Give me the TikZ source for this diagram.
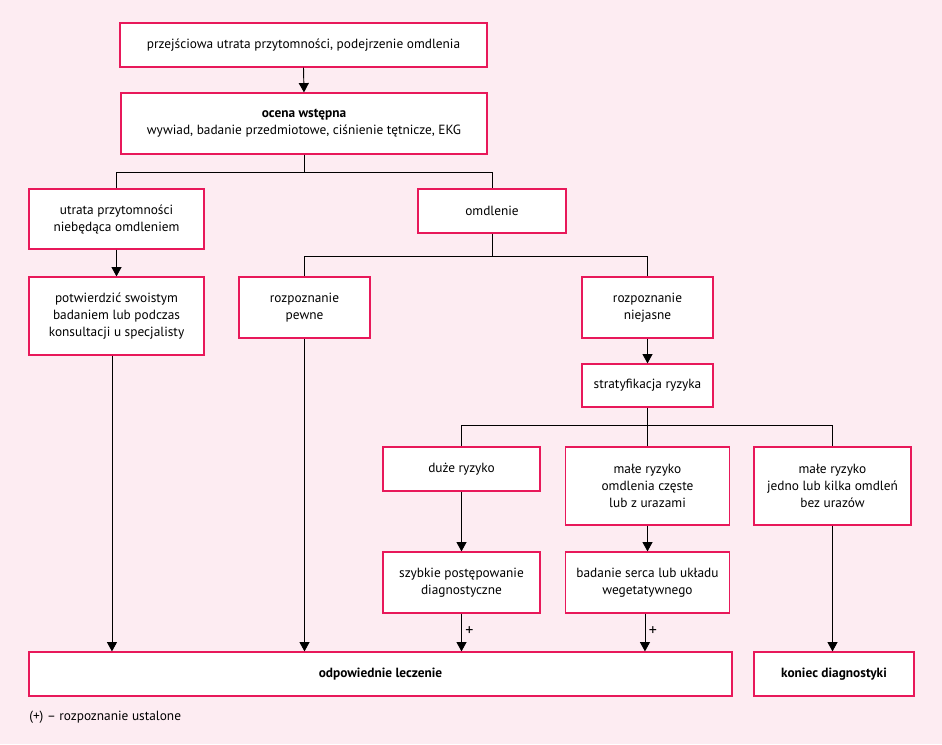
\documentclass[tikz,border=0pt]{standalone}
\usepackage{fontspec}
\setmainfont{PT Sans}
\usetikzlibrary{arrows.meta,calc}
\definecolor{bgpink}{HTML}{FDECF2}
\definecolor{edgepink}{HTML}{E8185A}
\begin{document}
\begin{tikzpicture}[x=0.75pt,y=-0.75pt,
  box/.style={draw=edgepink,fill=white,line width=0.9pt,align=center,inner sep=2pt,
    font=\fontsize{10}{12.75}\selectfont},
  conn/.style={line width=0.7pt,black},
  arr/.style={conn,-{Triangle[width=7.5pt,length=7pt]}},
  plus/.style={font=\fontsize{12}{12}\selectfont,anchor=west,inner sep=1pt,xshift=1.5pt}]
\fill[bgpink] (0,0) rectangle (942,744);
\useasboundingbox (0,0) rectangle (942,744);

\node[box,minimum width=275.25pt,minimum height=33pt] (top) at (303.5,45) {przejściowa utrata przytomności, podejrzenie omdlenia};
\node[box,minimum width=274.5pt,minimum height=45.75pt] (ocena) at (304,123.5) {\textbf{ocena wstępna}\\wywiad, badanie przedmiotowe, ciśnienie tętnicze, EKG};
\node[box,minimum width=131.25pt,minimum height=45pt] (utrata) at (116.5,219) {utrata przytomności\\niebędąca omdleniem};
\node[box,minimum width=111pt,minimum height=33pt] (omdl) at (492,211) {omdlenie};
\node[box,minimum width=131.25pt,minimum height=58.5pt] (potw) at (116.5,316) {potwierdzić swoistym\\badaniem lub podczas\\konsultacji u specjalisty};
\node[box,minimum width=98.25pt,minimum height=45.75pt] (pewne) at (304.5,307.5) {rozpoznanie\\pewne};
\node[box,minimum width=98.25pt,minimum height=45.75pt] (niej) at (647.5,307.5) {rozpoznanie\\niejasne};
\node[box,minimum width=98.25pt,minimum height=32.25pt] (strat) at (647.5,385.5) {stratyfikacja ryzyka};
\node[box,minimum width=117.75pt,minimum height=33pt] (duze) at (461.5,469) {duże ryzyko};
\node[box,minimum width=123pt,minimum height=58.5pt] (male1) at (647.5,486) {małe ryzyko\\omdlenia częste\\lub z urazami};
\node[box,minimum width=117.75pt,minimum height=58.5pt] (male2) at (832.5,486) {małe ryzyko\\jedno lub kilka omdleń\\bez urazów};
\node[box,minimum width=117.75pt,minimum height=45.75pt] (szyb) at (461.5,582.5) {szybkie postępowanie\\diagnostyczne};
\node[box,minimum width=123pt,minimum height=45.75pt] (bad) at (647.5,582.5) {badanie serca lub układu\\wegetatywnego};
\node[box,minimum width=527.25pt,minimum height=33pt] (lecz) at (380.5,674) {\textbf{odpowiednie leczenie}};
\node[box,minimum width=120pt,minimum height=33pt] (kon) at (834,674) {\textbf{koniec diagnostyki}};
\node[anchor=west,inner sep=0pt,font=\fontsize{10}{12}\selectfont] (leg) at (29,717) {(+) – rozpoznanie ustalone};

\coordinate (j1) at (304,172);
\coordinate (j2) at (492,256);
\coordinate (j3) at (647.5,425);

\draw[arr] (top.south) -- (ocena.north);
\draw[conn] (ocena.south) -- (j1 -| ocena.south);
\draw[conn] (j1 -| ocena.south) -| (utrata.north);
\draw[conn] (j1 -| ocena.south) -| (omdl.north);
\draw[arr] (utrata.south) -- (potw.north);
\draw[conn] (omdl.south) -- (j2);
\draw[conn] (j2) -| (pewne.north);
\draw[conn] (j2) -| (niej.north);
\draw[arr] (niej.south) -- (strat.north);
\draw[conn] (strat.south) -- (j3);
\draw[conn] (j3) -| (duze.north);
\draw[conn] (j3) -| (male2.north);
\draw[conn] (j3) -- (male1.north);
\draw[arr] (duze.south) -- (szyb.north);
\draw[arr] (male1.south) -- (bad.north);
\draw[arr] (male2.south) -- (male2.south |- kon.north);
\draw[arr] ([xshift=-3.4pt]potw.south) -- ([xshift=-3.4pt]potw.south |- lecz.north);
\draw[arr] (pewne.south) -- (pewne.south |- lecz.north);
\draw[arr] (szyb.south) -- node[plus,pos=0.45] {+} (szyb.south |- lecz.north);
\draw[arr] ([xshift=-1.9pt]bad.south) -- node[plus,pos=0.45] {+} ([xshift=-1.9pt]bad.south |- lecz.north);
\end{tikzpicture}
\end{document}
